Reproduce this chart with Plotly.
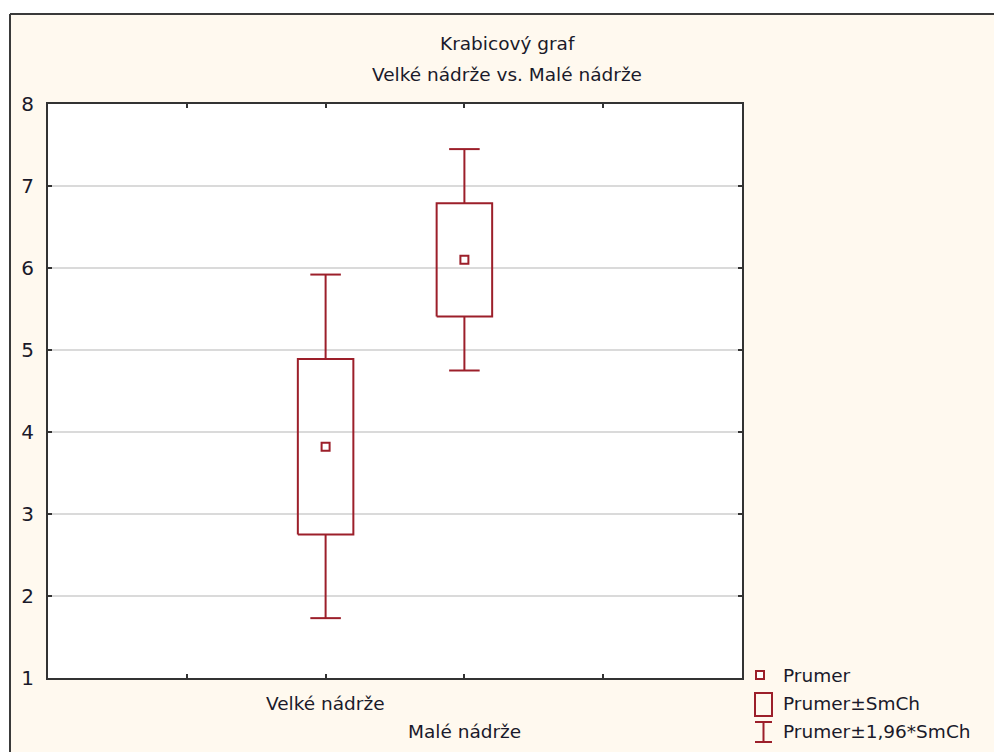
import plotly.graph_objects as go

# Group summaries: mean, mean ± SE (box), mean ± 1.96*SE (whiskers)
categories = ["Velké nádrže", "Malé nádrže"]
x_pos = [1, 2]
means = [3.82, 6.10]
box_low = [2.75, 5.41]
box_high = [4.89, 6.79]
whisk_low = [1.73, 4.75]
whisk_high = [5.92, 7.45]

y_ticks = [1, 2, 3, 4, 5, 6, 7, 8]
legend_labels = ["Prumer", "Prumer±SmCh", "Prumer±1,96*SmCh"]
title_lines = ["Krabicový graf", "Velké nádrže vs. Malé nádrže"]

RED = "#9C1F2A"
CREAM = "#FFF9EF"
FONT = "DejaVu Sans"
TEXT_SIZE = 18.5
W, H = 994, 752
L, R, T, B = 48, 742, 104, 678  # plot area in pixels


def px(x):
    return (x - L) / (R - L)


def py(y):
    return (B - y) / (B - T)


fig = go.Figure()

BOX_HW = 0.2
CAP_HW = 0.11
for xi, lo, hi, wl, wh, m in zip(x_pos, box_low, box_high, whisk_low, whisk_high, means):
    # whiskers with caps
    fig.add_trace(go.Scatter(
        x=[xi - CAP_HW, xi + CAP_HW, None, xi, xi, None, xi, xi, None, xi - CAP_HW, xi + CAP_HW],
        y=[wh, wh, None, wh, hi, None, lo, wl, None, wl, wl],
        mode="lines", line=dict(color=RED, width=2), hoverinfo="skip", showlegend=False))
    # box
    fig.add_trace(go.Scatter(
        x=[xi - BOX_HW, xi + BOX_HW, xi + BOX_HW, xi - BOX_HW, xi - BOX_HW],
        y=[lo, lo, hi, hi, lo],
        mode="lines", line=dict(color=RED, width=2), hoverinfo="skip", showlegend=False))
    # mean marker
    fig.add_trace(go.Scatter(
        x=[xi], y=[m], mode="markers",
        marker=dict(symbol="square", size=8, color="white", line=dict(color=RED, width=2)),
        showlegend=False))

shapes = []
# white margin above / left of the framed panel
shapes.append(dict(type="rect", xref="paper", yref="paper", x0=px(-5), x1=px(1000),
                   y0=py(14), y1=py(-5), fillcolor="white", line=dict(width=0), layer="below"))
shapes.append(dict(type="rect", xref="paper", yref="paper", x0=px(-5), x1=px(10),
                   y0=py(760), y1=py(-5), fillcolor="white", line=dict(width=0), layer="below"))
# panel frame
shapes.append(dict(type="line", xref="paper", yref="paper", x0=px(10), x1=px(1000),
                   y0=py(14), y1=py(14), line=dict(color="#3a3a3a", width=2)))
shapes.append(dict(type="line", xref="paper", yref="paper", x0=px(10), x1=px(10),
                   y0=py(14), y1=py(760), line=dict(color="#3a3a3a", width=2)))

# legend symbols
shapes.append(dict(type="rect", xref="paper", yref="paper", x0=px(756), x1=px(764),
                   y0=py(679), y1=py(671), line=dict(color=RED, width=2), fillcolor="white"))
shapes.append(dict(type="rect", xref="paper", yref="paper", x0=px(755), x1=px(772),
                   y0=py(716), y1=py(693), line=dict(color=RED, width=2), fillcolor="rgba(0,0,0,0)"))
shapes.append(dict(type="line", xref="paper", yref="paper", x0=px(763.5), x1=px(763.5),
                   y0=py(742), y1=py(722), line=dict(color=RED, width=2)))
shapes.append(dict(type="line", xref="paper", yref="paper", x0=px(755), x1=px(772),
                   y0=py(722), y1=py(722), line=dict(color=RED, width=2)))
shapes.append(dict(type="line", xref="paper", yref="paper", x0=px(755), x1=px(772),
                   y0=py(742), y1=py(742), line=dict(color=RED, width=2)))

annotations = []
for i, line in enumerate(title_lines):
    annotations.append(dict(text=line, xref="paper", yref="paper", x=px(507), y=py([44, 74][i]),
                            xanchor="center", yanchor="middle", showarrow=False,
                            font=dict(family=FONT, size=TEXT_SIZE, color="#1a1a2a")))
# staggered category labels
for xi, cat, ypix in zip(x_pos, categories, [703, 732]):
    annotations.append(dict(text=cat, xref="x", yref="paper", x=xi, y=py(ypix),
                            xanchor="center", yanchor="middle", showarrow=False,
                            font=dict(family=FONT, size=TEXT_SIZE, color="#1a1a2a")))
for lab, ypix in zip(legend_labels, [675, 703, 732]):
    annotations.append(dict(text=lab, xref="paper", yref="paper", x=px(781), y=py(ypix),
                            xanchor="left", yanchor="middle", showarrow=False,
                            font=dict(family=FONT, size=TEXT_SIZE, color="#1a1a2a")))

fig.update_layout(
    width=W, height=H,
    margin=dict(l=L, r=W - R, t=T, b=H - B),
    paper_bgcolor=CREAM, plot_bgcolor="white",
    shapes=shapes, annotations=annotations, showlegend=False,
    font=dict(family=FONT, color="#1a1a2a"),
)
fig.update_xaxes(range=[-1, 4], tickvals=[0, 1, 2, 3], ticktext=["", "", "", ""],
                 showgrid=False, zeroline=False, showline=True, mirror="ticks",
                 linecolor="#333333", linewidth=2, ticks="inside", ticklen=4,
                 tickcolor="#333333", tickwidth=2)
fig.update_yaxes(range=[1, 8], tickvals=y_ticks, showgrid=True, gridcolor="#DADADA",
                 gridwidth=1.5, zeroline=False, showline=True, mirror="ticks",
                 linecolor="#333333", linewidth=2, ticks="inside", ticklen=4,
                 tickcolor="#333333", tickwidth=2, ticklabelstandoff=8,
                 tickfont=dict(family=FONT, size=20, color="#1a1a2a"))

fig.write_html("out.html")
